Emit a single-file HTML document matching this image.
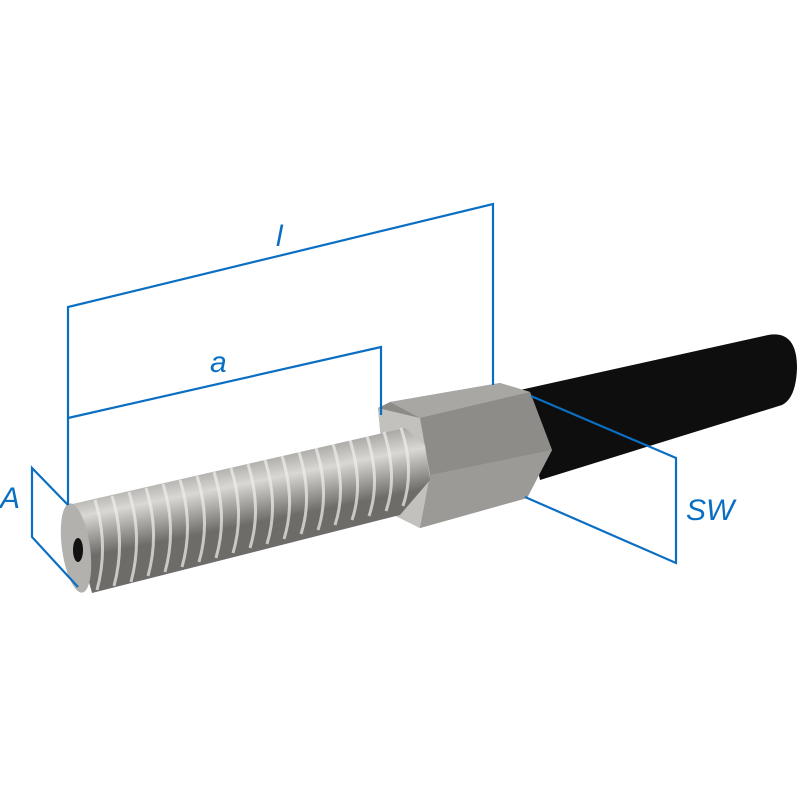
<!DOCTYPE html>
<html><head><style>body{margin:0;background:#fff}svg{display:block}</style></head><body>
<svg width="800" height="800" viewBox="0 0 800 800" xmlns="http://www.w3.org/2000/svg">
<defs>
<linearGradient id="rod" gradientUnits="userSpaceOnUse" x1="0" y1="340" x2="25" y2="470"><stop offset="0" stop-color="#2c2c2c"/><stop offset="0.45" stop-color="#222"/><stop offset="1" stop-color="#0e0e0e"/></linearGradient>
<linearGradient id="thr" gradientUnits="userSpaceOnUse" x1="0" y1="470" x2="20" y2="570"><stop offset="0" stop-color="#c8c6c3"/><stop offset="0.3" stop-color="#9a9894"/><stop offset="0.6" stop-color="#d9d8d5"/><stop offset="1" stop-color="#6e6c69"/></linearGradient>
</defs>
<!-- rod -->
<path d="M520,390 L768,335 Q797,330 797,368 Q796,398 782,405 L540,480 Z" fill="url(#rod)"/>
<!-- hex -->
<polygon points="378,408 390,402 500,383 530,392 552,450 527,498 420,528 388,512" fill="#8d8b88"/>
<polygon points="390,402 500,383 530,392 420,418" fill="#a9a7a4"/>
<polygon points="420,418 530,392 552,450 430,475" fill="#8e8c89"/>
<polygon points="430,475 552,450 527,498 420,528" fill="#9c9a97"/>
<polygon points="378,408 420,418 430,475 420,528 388,512" fill="#c3c1be"/>
<!-- thread -->
<polygon points="68,505 405,428 425,445 430,480 400,515 92,593" fill="url(#thr)"/>
<g stroke="#efefed" stroke-width="3" fill="none" opacity="0.7">
<path d="M95,500 q14,45 2,90"/><path d="M112,496 q14,45 2,90"/><path d="M129,492 q14,45 2,90"/><path d="M146,488 q14,45 2,88"/><path d="M163,484 q14,45 2,88"/><path d="M180,480 q14,45 2,87"/><path d="M197,476 q14,45 2,86"/><path d="M214,472 q14,45 2,86"/><path d="M231,468 q14,45 2,85"/><path d="M248,464 q14,45 2,84"/><path d="M265,460 q14,45 2,84"/><path d="M282,456 q14,45 2,83"/><path d="M299,452 q14,45 2,82"/><path d="M316,448 q14,45 2,82"/><path d="M333,444 q14,45 2,81"/><path d="M350,440 q14,45 2,80"/><path d="M367,436 q14,45 2,80"/><path d="M384,432 q14,45 2,79"/><path d="M401,428 q14,42 2,78"/>
</g>
<ellipse cx="76" cy="548" rx="14" ry="45" transform="rotate(-8 76 548)" fill="#b3b1ae"/>
<ellipse cx="78" cy="550" rx="5" ry="12" fill="#111"/>
<!-- dims -->
<g stroke="#0a6fc2" stroke-width="2.2" fill="none">
<polyline points="68,505 68,307 493,204 493,385"/>
<polyline points="68,418 381,347 381,415"/>
<polyline points="68,505 32,468 32,537 78,587"/>
<polyline points="531,396 676,458 676,563 525,497"/>
</g>
<g fill="#0a6fc2" font-family="Liberation Sans, sans-serif" font-style="italic" font-size="30">
<text x="276" y="246">l</text><text x="210" y="372">a</text><text x="0" y="508">A</text><text x="686" y="520">SW</text>
</g>
</svg>
</body></html>
